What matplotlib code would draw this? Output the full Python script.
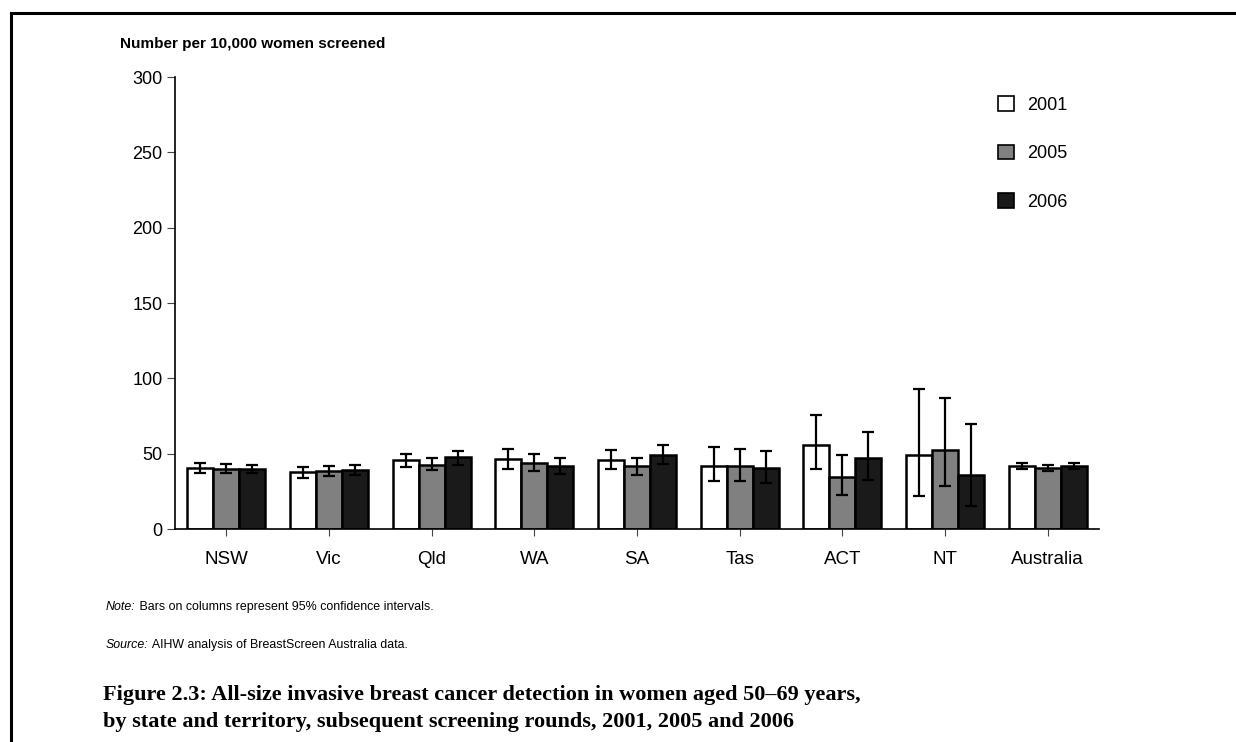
import matplotlib
matplotlib.use("Agg")
import matplotlib.pyplot as plt
import numpy as np
from matplotlib.patches import Patch
from matplotlib.lines import Line2D

plt.rcParams['font.family'] = ['Liberation Sans', 'DejaVu Sans']

categories = ["NSW", "Vic", "Qld", "WA", "SA", "Tas", "ACT", "NT", "Australia"]
years = ["2001", "2005", "2006"]

v2001 = [40.5, 37.6, 45.6, 46.2, 45.6, 42.1, 55.6, 49.1, 42.0]
lo2001 = [37.4, 34.1, 40.9, 40.1, 39.8, 31.9, 39.6, 21.7, 39.9]
hi2001 = [43.8, 41.4, 50.0, 52.9, 52.2, 54.7, 75.5, 92.7, 44.1]

v2005 = [40.0, 38.3, 42.7, 44.0, 41.6, 42.1, 34.3, 52.2, 40.7]
lo2005 = [37.4, 34.9, 38.9, 38.7, 36.1, 31.9, 22.8, 28.3, 38.8]
hi2005 = [43.4, 42.0, 46.9, 50.0, 47.3, 53.3, 49.1, 86.8, 42.5]

v2006 = [40.0, 39.4, 47.5, 41.6, 49.1, 40.3, 46.9, 35.9, 42.0]
lo2006 = [37.2, 36.1, 42.7, 36.3, 42.9, 30.8, 32.8, 15.3, 40.0]
hi2006 = [42.7, 42.7, 51.5, 46.9, 55.8, 51.8, 64.6, 69.5, 44.1]

yticks = [0, 50, 100, 150, 200, 250, 300]

series = [(v2001, lo2001, hi2001), (v2005, lo2005, hi2005), (v2006, lo2006, hi2006)]
colors = ["#ffffff", "#808080", "#1a1a1a"]

fig = plt.figure(figsize=(12.36, 7.42), dpi=100)
ax = fig.add_axes([175/1236, 1-529/742, (1099-175)/1236, (529-77)/742])

x = np.arange(len(categories))
w = 0.253
for i, ((vals, lo, hi), c) in enumerate(zip(series, colors)):
    vals = np.array(vals); lo = np.array(lo); hi = np.array(hi)
    xpos = x + (i - 1) * w
    ax.bar(xpos, vals, width=w, color=c, edgecolor="black", linewidth=1.8, zorder=2)
    ax.errorbar(xpos, vals, yerr=[vals - lo, hi - vals], fmt='none', ecolor="black",
                elinewidth=1.6, capsize=4.5, capthick=1.6, zorder=3)

ax.set_xlim(-0.5, len(categories) - 0.5)
ax.set_ylim(0, 300)
ax.set_yticks(yticks)
ax.set_yticklabels([str(t) for t in yticks], fontsize=13)
ax.set_xticks(x)
ax.set_xticklabels(categories, fontsize=13.5)
ax.spines['top'].set_visible(False)
ax.spines['right'].set_visible(False)
ax.spines['left'].set_linewidth(1.2)
ax.spines['bottom'].set_linewidth(1.2)
ax.tick_params(axis='y', length=6, width=0.8, direction='out', pad=3, colors='#444444', labelcolor='black')
ax.tick_params(axis='x', length=5, width=0.8, direction='out', pad=11, colors='#444444', labelcolor='black')

handles = [Patch(facecolor=c, edgecolor="black", linewidth=1.2) for c in colors]
leg = ax.legend(handles, years, loc='upper left', bbox_to_anchor=(982/1236, 1-80/742),
                bbox_transform=fig.transFigure, frameon=False, fontsize=13,
                handlelength=0.85, handleheight=0.85, labelspacing=1.72, handletextpad=0.75)

fig.text(120/1236, 1-44/742, "Number per 10,000 women screened", fontsize=11,
         fontweight='bold', va='center', ha='left')

t1 = fig.text(106/1236, 1-607/742, "Note:", fontsize=8.9, style='italic', va='center', ha='left')
ax.annotate(" Bars on columns represent 95% confidence intervals.", xy=(1, 0), xycoords=t1,
            fontsize=8.9, va='bottom', ha='left', annotation_clip=False)
t2 = fig.text(106/1236, 1-645/742, "Source:", fontsize=8.9, style='italic', va='center', ha='left')
ax.annotate(" AIHW analysis of BreastScreen Australia data.", xy=(1, 0), xycoords=t2,
            fontsize=8.9, va='bottom', ha='left', annotation_clip=False)

fig.text(103/1236, 1-695/742,
         "Figure 2.3: All-size invasive breast cancer detection in women aged 50\u201369 years,",
         fontsize=16, fontweight='bold', family=['Liberation Serif', 'DejaVu Serif'], va='center', ha='left')
fig.text(103/1236, 1-722/742,
         "by state and territory, subsequent screening rounds, 2001, 2005 and 2006",
         fontsize=16, fontweight='bold', family=['Liberation Serif', 'DejaVu Serif'], va='center', ha='left')

# border lines
fig.add_artist(Line2D([11/1236, 1], [1-13/742, 1-13/742], transform=fig.transFigure, color='black', linewidth=2.2))
fig.add_artist(Line2D([11/1236, 11/1236], [1-13/742, 0], transform=fig.transFigure, color='black', linewidth=2.2))

fig.savefig("out.png", dpi=100)
